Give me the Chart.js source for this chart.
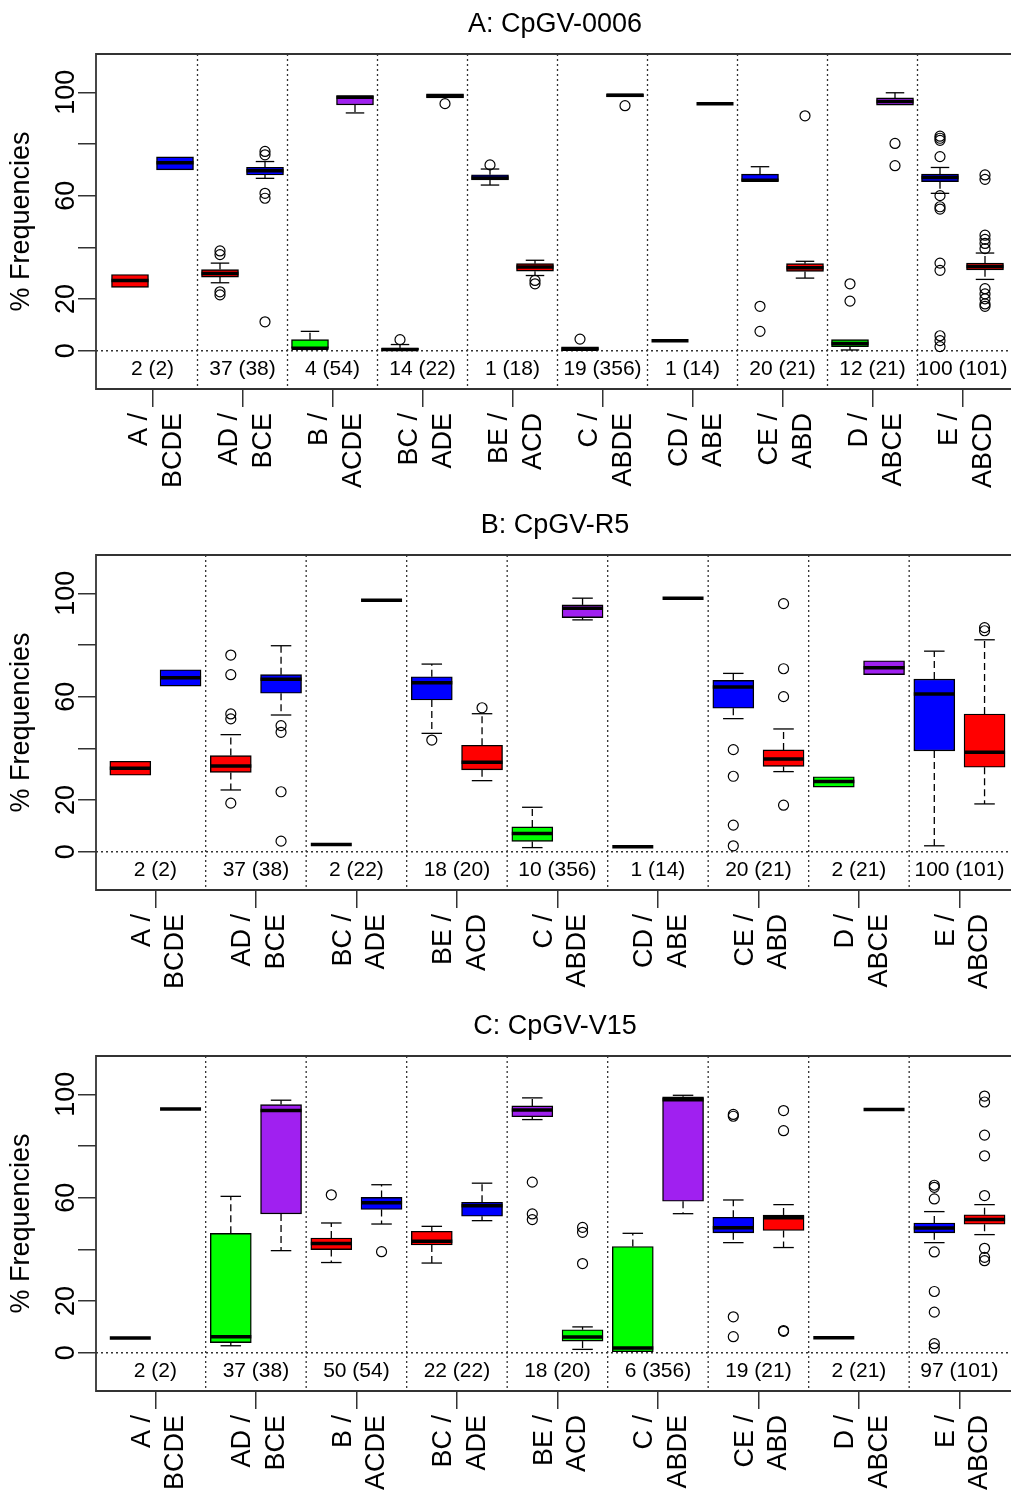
<!DOCTYPE html>
<html>
<head>
<meta charset="utf-8">
<script src="https://cdn.jsdelivr.net/npm/chart.js@4.4.1/dist/chart.umd.min.js"></script>
<style>
html, body { margin: 0; padding: 0; background: #fff; overflow: hidden; }
canvas { display: block; }
</style>
</head>
<body>
<canvas id="panelA" width="1011" height="501"></canvas>
<canvas id="panelB" width="1011" height="501"></canvas>
<canvas id="panelC" width="1011" height="490"></canvas>
<script>
const red = '#ff0000', blue = '#0000ff', green = '#00ff00', purple = '#a020f0', black = '#000000'
const fontFamily = '"Liberation Sans", Arial, sans-serif'
const axisColor = '#333'

const yTicks = [0, 20, 40, 60, 80, 100]
const yTickLabels = ['0', '20', '', '60', '', '100']
const yTitle = '% Frequencies'

// ---- A: CpGV-0006
const titleA = 'A: CpGV-0006'
const groupsA = [['A /', 'BCDE'], ['AD /', 'BCE'], ['B /', 'ACDE'], ['BC /', 'ADE'], ['BE /', 'ACD'],
                 ['C /', 'ABDE'], ['CD /', 'ABE'], ['CE /', 'ABD'], ['D /', 'ABCE'], ['E /', 'ABCD']]
const countsA = ['2 (2)', '37 (38)', '4 (54)', '14 (22)', '1 (18)', '19 (356)', '1 (14)', '20 (21)', '12 (21)', '100 (101)']
const loA  = [24.5, 70.0, 26.3, 66.7, 0.5, 92.0, 0.0, 97.8, 64.1, 29.1, 0.3, 98.2, 3.9, 95.6, 65.5, 28.1, 0.3, 95.0, 60.9, 27.6]
const q1A  = [24.5, 70.0, 28.5, 68.0, 0.9, 95.1, 0.0, 97.8, 66.1, 30.8, 0.3, 98.2, 3.9, 95.6, 65.5, 30.7, 1.6, 95.0, 65.4, 31.3]
const medA = [27.2, 72.7, 29.9, 69.6, 1.0, 98.1, 0.5, 98.6, 66.8, 32.4, 0.6, 98.8, 3.9, 95.6, 66.0, 32.1, 2.8, 96.4, 67.0, 32.6]
const q3A  = [29.5, 75.0, 31.4, 71.0, 4.3, 98.7, 1.0, 99.4, 68.1, 33.7, 1.5, 99.4, 3.9, 95.6, 68.3, 33.7, 4.3, 97.8, 68.3, 33.9]
const hiA  = [29.5, 75.0, 33.9, 73.2, 7.5, 98.7, 2.4, 99.4, 70.3, 35.0, 1.5, 99.4, 3.9, 95.6, 71.2, 34.6, 4.3, 99.8, 70.9, 37.8]
const outA = [[], [], [38.6, 37.2, 22.8, 21.6], [77.1, 75.8, 60.9, 59.0, 11.2], [], [], [4.3], [95.6], [71.9], [27.2, 25.9],
              [4.5], [94.8], [], [], [17.2, 7.5], [90.9], [25.9, 19.2], [80.2, 71.6],
              [83.0, 82.2, 81.4, 75.1, 60.0, 55.7, 54.8, 33.9, 31.1, 5.8, 3.9, 1.6],
              [68.0, 66.3, 44.7, 43.1, 41.5, 39.5, 24.0, 22.0, 20.1, 18.1, 17.2]]
const colA = [red, blue, red, blue, green, purple, black, black, blue, red, black, black, black, black, blue, red, green, purple, blue, red]

// ---- B: CpGV-R5
const titleB = 'B: CpGV-R5'
const groupsB = [['A /', 'BCDE'], ['AD /', 'BCE'], ['BC /', 'ADE'], ['BE /', 'ACD'], ['C /', 'ABDE'],
                 ['CD /', 'ABE'], ['CE /', 'ABD'], ['D /', 'ABCE'], ['E /', 'ABCD']]
const countsB = ['2 (2)', '37 (38)', '2 (22)', '18 (20)', '10 (356)', '1 (14)', '20 (21)', '2 (21)', '100 (101)']
const loB  = [29.6, 64.1, 23.9, 52.9, 2.8, 97.3, 45.8, 27.5, 1.6, 89.7, 1.9, 98.1, 51.5, 31.0, 25.0, 68.5, 2.3, 18.5]
const q1B  = [29.6, 64.1, 30.7, 61.3, 2.8, 97.3, 58.7, 31.7, 4.0, 90.6, 1.9, 98.1, 55.5, 33.0, 25.0, 68.5, 39.0, 32.7]
const medB = [32.3, 67.3, 33.2, 66.7, 2.8, 97.3, 65.4, 34.6, 7.1, 94.2, 1.9, 98.1, 63.7, 35.9, 27.2, 71.2, 61.0, 38.5]
const q3B  = [35.0, 70.4, 37.2, 68.5, 2.8, 97.3, 67.7, 41.2, 9.6, 95.5, 1.9, 98.1, 66.3, 39.4, 29.0, 73.9, 66.8, 53.3]
const hiB  = [35.0, 70.4, 45.3, 79.7, 2.8, 97.3, 72.6, 53.4, 17.2, 98.1, 1.9, 98.1, 69.0, 47.5, 29.0, 73.9, 77.6, 82.0]
const outB = [[], [], [76.1, 68.5, 53.3, 51.4, 18.8], [48.8, 46.2, 23.2, 4.1], [], [], [43.2], [55.7], [], [],
              [], [], [39.5, 29.2, 10.3, 2.3], [96.0, 70.8, 60.0, 18.0], [], [], [], [86.7, 85.5]]
const colB = [red, blue, red, blue, black, black, blue, red, green, purple, black, black, blue, red, green, purple, blue, red]

// ---- C: CpGV-V15
const titleC = 'C: CpGV-V15'
const groupsC = [['A /', 'BCDE'], ['AD /', 'BCE'], ['B /', 'ACDE'], ['BC /', 'ADE'], ['BE /', 'ACD'],
                 ['C /', 'ABDE'], ['CE /', 'ABD'], ['D /', 'ABCE'], ['E /', 'ABCD']]
const countsC = ['2 (2)', '37 (38)', '50 (54)', '22 (22)', '18 (20)', '6 (356)', '19 (21)', '2 (21)', '97 (101)']
const loC  = [5.7, 94.3, 2.7, 39.5, 34.9, 49.8, 34.7, 51.1, 90.2, 1.3, 0.4, 53.8, 42.6, 40.7, 5.8, 94.1, 42.6, 45.7]
const q1C  = [5.7, 94.3, 3.9, 53.7, 39.9, 55.4, 41.7, 52.8, 91.3, 4.5, 0.4, 58.6, 46.4, 47.3, 5.8, 94.1, 46.4, 49.7]
const medC = [5.7, 94.3, 6.2, 93.7, 42.3, 58.0, 43.1, 56.9, 93.9, 6.1, 1.8, 97.9, 48.4, 52.2, 5.8, 94.1, 48.3, 51.5]
const q3C  = [5.7, 94.3, 46.2, 96.0, 44.4, 60.1, 47.0, 58.2, 95.5, 8.9, 41.1, 99.0, 52.4, 53.3, 5.8, 94.1, 50.2, 53.4]
const hiC  = [5.7, 94.3, 60.5, 97.7, 50.2, 65.0, 48.9, 65.6, 98.6, 10.0, 46.2, 99.6, 59.1, 57.3, 5.8, 94.1, 54.6, 57.3]
const outC = [[], [], [], [], [61.1], [39.1], [], [], [66.0, 53.7, 51.5], [48.5, 46.6, 34.5],
              [], [], [92.2, 91.5, 13.9, 6.2], [93.7, 85.9, 8.6, 8.3], [], [],
              [64.8, 64.0, 59.5, 39.0, 23.7, 15.7, 3.5, 1.9],
              [99.3, 97.0, 84.2, 76.2, 60.8, 40.4, 36.9, 35.6]]
const colC = [black, black, green, purple, red, blue, red, blue, purple, green, green, purple, blue, red, black, black, blue, red]

function line(ctx, x1, y1, x2, y2) {
  ctx.beginPath()
  ctx.moveTo(x1, y1)
  ctx.lineTo(x2, y2)
  ctx.stroke()
}

function rotatedText(ctx, text, x, y, align) {
  ctx.save()
  ctx.translate(x, y)
  ctx.rotate(-Math.PI / 2)
  ctx.textAlign = align
  ctx.textBaseline = 'alphabetic'
  ctx.fillText(text, 0, 0)
  ctx.restore()
}

function boxPlugin(p) {
  return {
    id: 'boxes',
    beforeDatasetsDraw(chart) {
      const ctx = chart.ctx, area = chart.chartArea
      const xs = chart.scales.x, ys = chart.scales.y
      ctx.save()
      // dotted separators and zero line
      ctx.strokeStyle = axisColor
      ctx.lineWidth = 1.3
      ctx.setLineDash([2, 3])
      for (let k = 0; k < p.groups.length - 1; k++) {
        const px = xs.getPixelForValue(2 * k + 2.5)
        line(ctx, px, area.top, px, area.bottom)
      }
      const y0 = ys.getPixelForValue(0)
      line(ctx, area.left, y0, area.right, y0)
      // whiskers
      const meta = chart.getDatasetMeta(0)
      ctx.strokeStyle = '#000'
      ctx.lineWidth = 1.3
      meta.data.forEach((bar, i) => {
        const yLo = ys.getPixelForValue(p.lo[i]), yHi = ys.getPixelForValue(p.hi[i])
        const yQ1 = ys.getPixelForValue(p.q1[i]), yQ3 = ys.getPixelForValue(p.q3[i])
        const half = bar.width / 4
        ctx.setLineDash([7, 4])
        if (p.hi[i] > p.q3[i]) line(ctx, bar.x, yQ3, bar.x, yHi)
        if (p.lo[i] < p.q1[i]) line(ctx, bar.x, yQ1, bar.x, yLo)
        ctx.setLineDash([])
        if (p.hi[i] > p.q3[i]) line(ctx, bar.x - half, yHi, bar.x + half, yHi)
        if (p.lo[i] < p.q1[i]) line(ctx, bar.x - half, yLo, bar.x + half, yLo)
      })
      ctx.restore()
    },
    afterDatasetsDraw(chart) {
      const ctx = chart.ctx, ys = chart.scales.y
      const meta = chart.getDatasetMeta(0)
      ctx.save()
      ctx.strokeStyle = '#000'
      ctx.lineWidth = 3.5
      meta.data.forEach((bar, i) => {
        const ym = ys.getPixelForValue(p.med[i])
        line(ctx, bar.x - bar.width / 2, ym, bar.x + bar.width / 2, ym)
      })
      ctx.restore()
    },
    afterDraw(chart) {
      const ctx = chart.ctx, area = chart.chartArea
      const xs = chart.scales.x, ys = chart.scales.y
      ctx.save()
      // plot frame (right side runs off the page)
      ctx.strokeStyle = axisColor
      ctx.lineWidth = 1.8
      ctx.beginPath()
      ctx.moveTo(area.right + 4, area.top)
      ctx.lineTo(area.left, area.top)
      ctx.lineTo(area.left, area.bottom)
      ctx.lineTo(area.right + 4, area.bottom)
      ctx.stroke()

      ctx.fillStyle = '#000'
      ctx.font = '27px ' + fontFamily
      ctx.textAlign = 'center'
      ctx.textBaseline = 'alphabetic'
      ctx.fillText(p.title, 555, 31.5)

      rotatedText(ctx, yTitle, 29, (area.top + area.bottom) / 2, 'center')
      yTicks.forEach((v, i) => {
        if (yTickLabels[i]) rotatedText(ctx, yTickLabels[i], 74, ys.getPixelForValue(v), 'center')
      })

      p.groups.forEach((g, k) => {
        const cx = xs.getPixelForValue(2 * k + 1.5)
        rotatedText(ctx, g[0], cx - 5.5, area.bottom + 24, 'right')
        rotatedText(ctx, g[1], cx + 28, area.bottom + 24, 'right')
      })

      ctx.font = '21px ' + fontFamily
      ctx.textAlign = 'center'
      const yc = ys.getPixelForValue(0) + 24.5
      p.counts.forEach((c, k) => {
        ctx.fillText(c, xs.getPixelForValue(2 * k + 1.5), yc)
      })
      ctx.restore()
    }
  }
}

// target plot box inside each canvas
const areaLeft = 96, areaTop = 54, areaBottom = 389

function makePanel(id, p, xMin, xMax, boxWidth) {
  const canvas = document.getElementById(id)
  const positions = p.q1.map((v, i) => i + 1)
  const outliers = []
  p.out.forEach((vals, i) => vals.forEach(v => outliers.push({ x: i + 1, y: v })))
  const centers = p.groups.map((g, k) => 2 * k + 1.5)

  const grid = {
    display: true,
    drawOnChartArea: false,
    drawTicks: true,
    tickLength: 18,
    offset: false,
    color: axisColor,
    lineWidth: 1.5
  }

  new Chart(canvas, {
    type: 'bar',
    data: {
      datasets: [{
        type: 'bar',
        data: positions.map((x, i) => ({ x: x, y: [p.q1[i], p.q3[i]] })),
        backgroundColor: p.colors,
        borderColor: '#000',
        borderWidth: 1.4,
        borderSkipped: false,
        barThickness: boxWidth
      }, {
        type: 'scatter',
        data: outliers,
        pointStyle: 'circle',
        pointRadius: 5,
        borderColor: '#000',
        borderWidth: 1.2,
        backgroundColor: 'rgba(0,0,0,0)'
      }]
    },
    options: {
      responsive: false,
      animation: false,
      devicePixelRatio: 1,
      events: [],
      layout: {
        autoPadding: false,
        padding: { top: areaTop, left: areaLeft - 18, right: 0, bottom: canvas.height - areaBottom - 18 }
      },
      plugins: { legend: { display: false }, tooltip: { enabled: false }, title: { display: false } },
      scales: {
        x: {
          type: 'linear',
          min: xMin,
          max: xMax,
          offset: false,
          grid: grid,
          border: { display: false },
          ticks: { display: false },
          afterBuildTicks: s => { s.ticks = centers.map(v => ({ value: v })) }
        },
        y: {
          type: 'linear',
          min: -14.8,
          max: 114.8,
          grid: grid,
          border: { display: false },
          ticks: { display: false },
          afterBuildTicks: s => { s.ticks = yTicks.map(v => ({ value: v })) }
        }
      }
    },
    plugins: [boxPlugin(p)]
  })
}

makePanel('panelA', { title: titleA, groups: groupsA, counts: countsA, lo: loA, q1: q1A, med: medA, q3: q3A, hi: hiA, out: outA, colors: colA },
  1 - 34 / 45, 1 + 881 / 45, 37)
makePanel('panelB', { title: titleB, groups: groupsB, counts: countsB, lo: loB, q1: q1B, med: medB, q3: q3B, hi: hiB, out: outB, colors: colB },
  1 - 34.3 / 50.25, 1 + 880.7 / 50.25, 41)
makePanel('panelC', { title: titleC, groups: groupsC, counts: countsC, lo: loC, q1: q1C, med: medC, q3: q3C, hi: hiC, out: outC, colors: colC },
  1 - 34.3 / 50.25, 1 + 880.7 / 50.25, 41)
</script>
</body>
</html>
